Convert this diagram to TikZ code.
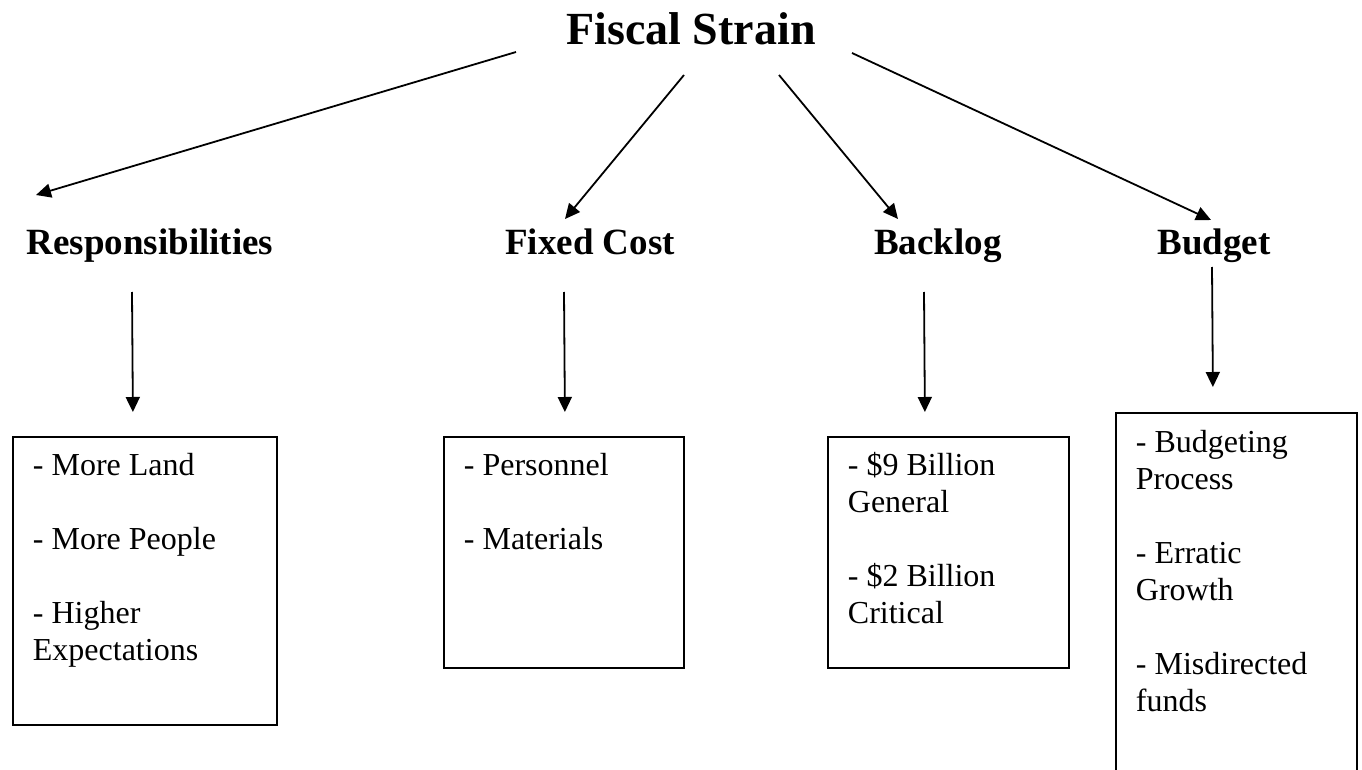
\documentclass[tikz,border=0pt]{standalone}
\usepackage{fontspec}
\setmainfont{Liberation Serif}
\usetikzlibrary{arrows.meta,calc,positioning}

\tikzset{
    %Define standard arrow tip
    >={Triangle[length=15pt,width=14pt]},
    %Define style for headings
    kopf/.style={
           anchor=base,
           font=\fontsize{37}{42}\selectfont\bfseries},
    %Define style for list boxes
    liste/.style={
           draw, line width=1.8pt,
           anchor=north west,
           align=flush left,
           inner xsep=20pt, inner ysep=0pt,
           text height=39pt,
           font=\fontsize{32}{37}\selectfont},
    % Define arrow style
    pil/.style={
           ->,
           line width=1.8pt}
}

\begin{document}
\begin{tikzpicture}[x=1pt,y=-1pt]
 \useasboundingbox (0,0) rectangle (1362,770);

 %Title
 \node[anchor=base,font=\fontsize{46}{52}\selectfont\bfseries] (fs) at (691,45) {Fiscal Strain};

 %Headings
 \node[kopf] (resp) at (150,254) {Responsibilities};
 \node[kopf] (fc) at (590,254) {Fixed Cost};
 \node[kopf] (bl) at (938,254) {Backlog};
 \node[kopf] (bg) at (1214,254) {Budget};

 %Boxes
 \node[liste,text width=224pt,text depth=249pt] (respl) at (12,436)
   {- More Land\\[37pt]- More People\\[37pt]- Higher Expectations};
 \node[liste,text width=200pt,text depth=192pt] (fcl) at (443,436)
   {- Personnel\\[37pt]- Materials};
 \node[liste,text width=201pt,text depth=192pt] (bll) at (827,436)
   {- \$9 Billion General\\[37pt]- \$2 Billion Critical};
 \node[liste,text width=201pt,text height=40pt,text depth=322pt] (bgl) at (1115,412)
   {- Budgeting Process\\[37pt]- Erratic Growth\\[37pt]- Misdirected funds};

 %Title to headings
 \draw[pil] ($(fs.base)+(-175,7)$) -- ($(resp.base)+(-114,-59)$);
 \draw[pil] ($(fs.base)+(-7,30)$) -- ($(fc.base)+(-25,-35)$);
 \draw[pil] ($(fs.base)+(88,30)$) -- ($(bl.base)+(-40,-35)$);
 \draw[pil] ($(fs.base)+(161,8)$) -- ($(bg.base)+(-3,-34)$);

 %Headings to boxes
 \draw[pil] ($(resp.base)+(-18,38)$) -- ($(respl.north)+(-12,-24)$);
 \draw[pil] ($(fc.base)+(-26,38)$) -- ($(fcl.north)+(1,-24)$);
 \draw[pil] ($(bl.base)+(-14,38)$) -- ($(bll.north)+(-23.5,-24)$);
 \draw[pil] ($(bg.base)+(-2,13)$) -- ($(bgl.north)+(-23.5,-25)$);
\end{tikzpicture}
\end{document}
